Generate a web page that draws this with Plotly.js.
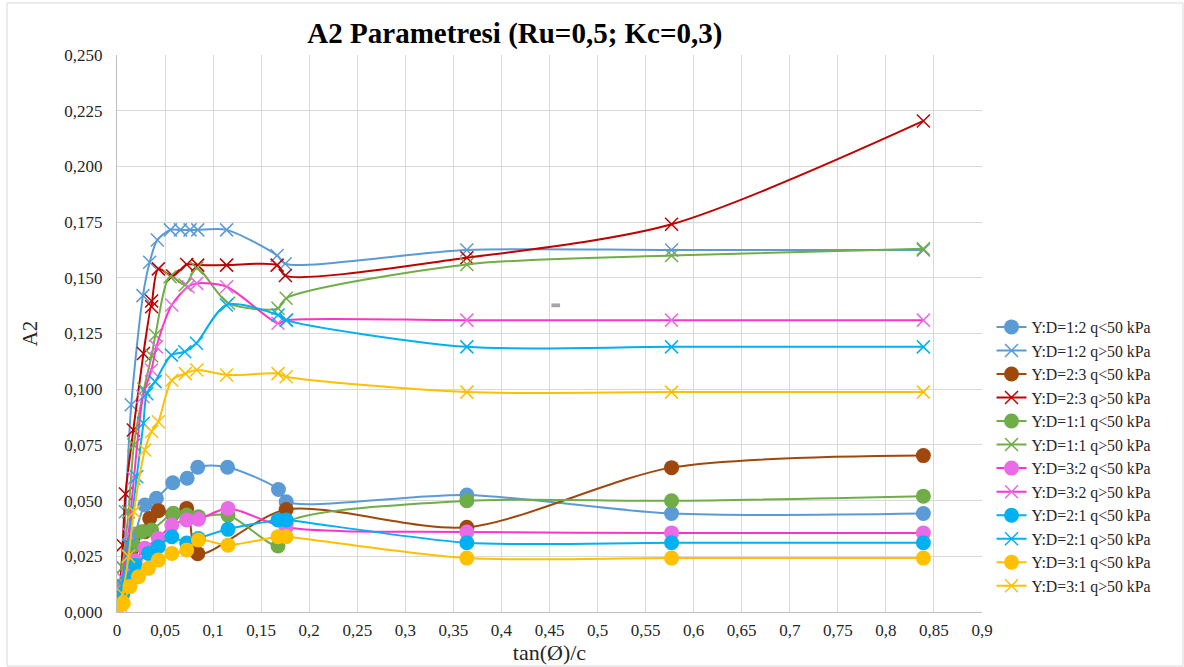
<!DOCTYPE html>
<html>
<head>
<meta charset="utf-8">
<script src="https://cdn.plot.ly/plotly-3.0.1.min.js"></script>
<style>
html,body{margin:0;padding:0;background:#fff;}
#chart{width:1184px;height:667px;}
</style>
</head>
<body>
<div id="chart"></div>
<script>
// ---- data ----
const seriesNames = [
  "Y:D=1:2 q<50 kPa", "Y:D=1:2 q>50 kPa",
  "Y:D=2:3 q<50 kPa", "Y:D=2:3 q>50 kPa",
  "Y:D=1:1 q<50 kPa", "Y:D=1:1 q>50 kPa",
  "Y:D=3:2 q<50 kPa", "Y:D=3:2 q>50 kPa",
  "Y:D=2:1 q<50 kPa", "Y:D=2:1 q>50 kPa",
  "Y:D=3:1 q<50 kPa", "Y:D=3:1 q>50 kPa"
];

const x12lo = [0.0035, 0.0059, 0.012, 0.019, 0.029, 0.041, 0.058, 0.073, 0.084, 0.115, 0.168, 0.176, 0.364, 0.577, 0.839];
const y12lo = [0.006, 0.012, 0.024, 0.035, 0.048, 0.051, 0.058, 0.060, 0.065, 0.065, 0.055, 0.0495, 0.0525, 0.0442, 0.0442];

const x12hi = [0.0035, 0.0059, 0.0088, 0.0148, 0.027, 0.034, 0.042, 0.0555, 0.066, 0.076, 0.084, 0.114, 0.1666, 0.175, 0.364, 0.577, 0.839];
const y12hi = [0.010, 0.020, 0.045, 0.093, 0.142, 0.157, 0.167, 0.1715, 0.1715, 0.1715, 0.1715, 0.1715, 0.160, 0.1563, 0.1625, 0.1625, 0.1625];

const x23lo = [0.0035, 0.0059, 0.012, 0.0153, 0.029, 0.034, 0.043, 0.058, 0.0725, 0.084, 0.176, 0.364, 0.577, 0.839];
const y23lo = [0.005, 0.010, 0.020, 0.028, 0.036, 0.042, 0.0455, 0.044, 0.0465, 0.0262, 0.046, 0.038, 0.0648, 0.0702];

const x23hi = [0.0035, 0.0059, 0.0088, 0.017, 0.0275, 0.036, 0.036, 0.043, 0.058, 0.0725, 0.084, 0.114, 0.1666, 0.1752, 0.364, 0.577, 0.839];
const y23hi = [0.012, 0.030, 0.053, 0.0817, 0.116, 0.1396, 0.137, 0.154, 0.1508, 0.156, 0.1557, 0.1557, 0.1557, 0.151, 0.159, 0.174, 0.2204];

const x11lo = [0.0035, 0.0059, 0.012, 0.0176, 0.0257, 0.036, 0.0587, 0.0725, 0.0847, 0.1155, 0.1675, 0.176, 0.364, 0.577, 0.839];
const y11lo = [0.006, 0.012, 0.022, 0.030, 0.036, 0.0368, 0.0443, 0.0435, 0.0428, 0.0435, 0.0296, 0.040, 0.0499, 0.0499, 0.052];

const x11hi = [0.0035, 0.0059, 0.012, 0.0176, 0.028, 0.036, 0.040, 0.0552, 0.0708, 0.083, 0.116, 0.1675, 0.176, 0.364, 0.577, 0.839];
const y11hi = [0.008, 0.020, 0.045, 0.075, 0.100, 0.115, 0.1243, 0.1505, 0.1468, 0.1543, 0.1386, 0.1363, 0.1408, 0.156, 0.160, 0.163];

const x32lo = [0.0035, 0.0059, 0.012, 0.019, 0.029, 0.043, 0.057, 0.0725, 0.0847, 0.1155, 0.176, 0.364, 0.577, 0.839];
const y32lo = [0.005, 0.009, 0.017, 0.023, 0.0286, 0.033, 0.039, 0.0413, 0.0416, 0.0465, 0.038, 0.0359, 0.0355, 0.0355];

const x32hi = [0.0035, 0.0059, 0.012, 0.0176, 0.027, 0.0358, 0.041, 0.057, 0.074, 0.083, 0.114, 0.1675, 0.176, 0.364, 0.577, 0.839];
const y32hi = [0.006, 0.015, 0.035, 0.060, 0.0966, 0.1086, 0.119, 0.1378, 0.146, 0.1475, 0.146, 0.1296, 0.131, 0.131, 0.131, 0.131];

const x21lo = [0.0035, 0.0059, 0.012, 0.019, 0.0327, 0.043, 0.057, 0.0725, 0.0847, 0.1155, 0.1675, 0.176, 0.364, 0.577, 0.839];
const y21lo = [0.004, 0.008, 0.015, 0.021, 0.0263, 0.0293, 0.0338, 0.031, 0.033, 0.0371, 0.0413, 0.0413, 0.0311, 0.0311, 0.0311];

const x21hi = [0.0035, 0.0059, 0.012, 0.0205, 0.0275, 0.031, 0.0396, 0.0566, 0.0705, 0.0826, 0.1138, 0.1675, 0.1763, 0.364, 0.577, 0.839];
const y21hi = [0.005, 0.012, 0.030, 0.0607, 0.0847, 0.098, 0.1034, 0.1153, 0.1168, 0.1206, 0.1378, 0.1333, 0.131, 0.119, 0.119, 0.119];

const x31lo = [0, 0.0066, 0.0135, 0.0223, 0.0327, 0.043, 0.057, 0.0725, 0.0847, 0.1155, 0.1675, 0.176, 0.364, 0.577, 0.839];
const y31lo = [0, 0.0039, 0.0114, 0.0158, 0.0196, 0.0233, 0.0263, 0.0278, 0.0323, 0.030, 0.0338, 0.0338, 0.0242, 0.0242, 0.0242];

const x31hi = [0.0035, 0.0059, 0.012, 0.0176, 0.029, 0.036, 0.043, 0.057, 0.071, 0.083, 0.114, 0.1675, 0.176, 0.364, 0.577, 0.839];
const y31hi = [0.003, 0.008, 0.025, 0.045, 0.0727, 0.081, 0.0854, 0.104, 0.107, 0.1086, 0.1064, 0.107, 0.1056, 0.0987, 0.0987, 0.0987];

const xs = [x12lo, x12hi, x23lo, x23hi, x11lo, x11hi, x32lo, x32hi, x21lo, x21hi, x31lo, x31hi];
const ys = [y12lo, y12hi, y23lo, y23hi, y11lo, y11hi, y32lo, y32hi, y21lo, y21hi, y31lo, y31hi];

// ---- styles ----
const lineColors   = ["#5B9BD5", "#5B9BD5", "#9E480E", "#C00000", "#70AD47", "#70AD47", "#FF33CC", "#FF33CC", "#00B0F0", "#00B0F0", "#FFC000", "#FFC000"];
const markerColors = ["#5B9BD5", "#5B9BD5", "#9E480E", "#C00000", "#70AD47", "#70AD47", "#EA6BE6", "#EA6BE6", "#00B0F0", "#00B0F0", "#FFC000", "#FFC000"];

const FONT = "Liberation Serif";
const TXT = "#262626";

const traces = seriesNames.map((name, i) => {
  const isCross = i % 2 === 1;
  return {
    type: "scatter",
    mode: "lines+markers",
    name: name,
    x: xs[i],
    y: ys[i],
    line: {color: lineColors[i], width: 2, shape: "spline", smoothing: 0.8},
    marker: isCross
      ? {symbol: "x-thin", size: 13, color: markerColors[i], line: {color: markerColors[i], width: 1.5}}
      : {symbol: "circle", size: 15, color: markerColors[i], line: {width: 0}}
  };
});

const layout = {
  width: 1184,
  height: 667,
  margin: {l: 117, r: 202, t: 55, b: 55},
  paper_bgcolor: "#fff",
  plot_bgcolor: "#fff",
  separators: ", ",
  font: {family: FONT, color: TXT, size: 17},
  title: {
    text: "<b>A2 Parametresi (Ru=0,5; Kc=0,3)</b>",
    font: {family: FONT, size: 29, color: "#000"},
    xref: "paper", x: 0.46, xanchor: "center",
    yref: "container", y: 0.951, yanchor: "middle"
  },
  xaxis: {
    range: [0, 0.9], dtick: 0.05, tick0: 0,
    showgrid: true, gridcolor: "#D9D9D9", gridwidth: 1,
    zeroline: false, showline: true, linecolor: "#BFBFBF",
    ticks: "", ticklabelstandoff: 3,
    tickfont: {family: FONT, size: 17, color: TXT},
    title: {text: "tan(Ø)/c", font: {family: FONT, size: 22, color: TXT}, standoff: 0}
  },
  yaxis: {
    range: [0, 0.25], dtick: 0.025, tick0: 0, tickformat: ".3f",
    showgrid: true, gridcolor: "#D9D9D9", gridwidth: 1,
    zeroline: false, showline: true, linecolor: "#BFBFBF",
    ticks: "", ticklabelstandoff: 10,
    tickfont: {family: FONT, size: 17, color: TXT},
    title: {text: "A2", font: {family: FONT, size: 21, color: TXT}, standoff: 20}
  },
  legend: {
    x: 1.011, xanchor: "left", y: 0.542, yanchor: "top",
    font: {family: FONT, size: 15.8, color: TXT},
    bgcolor: "rgba(0,0,0,0)", itemwidth: 30, tracegroupgap: 0
  },
  shapes: [
    {type: "rect", xref: "paper", yref: "paper",
     x0: -110/865, x1: 1066/865, y0: -54/557, y1: 609/557,
     line: {color: "#D9D9D9", width: 1}},
    {type: "rect", xref: "x", yref: "y", x0: 0.452, x1: 0.461, y0: 0.1368, y1: 0.1385,
     fillcolor: "#A6A6A6", line: {width: 0}}
  ],
  showlegend: true
};

Plotly.newPlot("chart", traces, layout, {displayModeBar: false, staticPlot: true});
</script>
</body>
</html>
